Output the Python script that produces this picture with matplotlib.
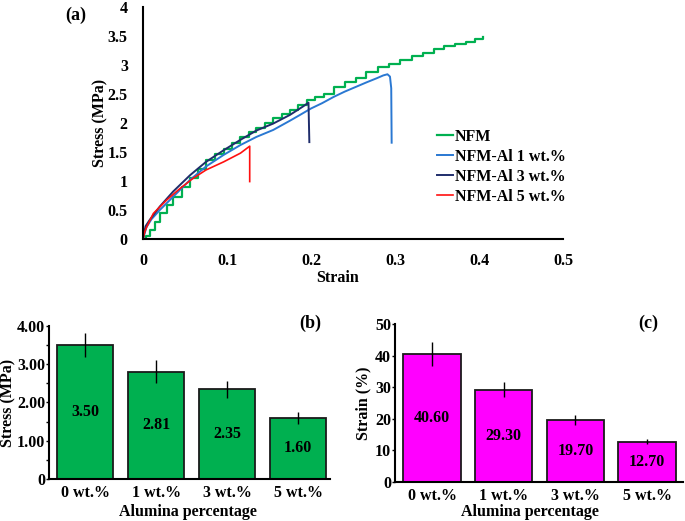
import numpy as np
import matplotlib
matplotlib.use("Agg")
import matplotlib.pyplot as plt

plt.rcParams['font.family'] = ['Liberation Serif', 'DejaVu Serif']
plt.rcParams['font.weight'] = 'bold'

# ---- (a) stress-strain curves ----
nfm_strain = [0, 0.004, 0.008, 0.014, 0.020, 0.028, 0.036, 0.046, 0.056, 0.066,
              0.075, 0.086, 0.096, 0.106, 0.116, 0.126, 0.135, 0.145, 0.155, 0.165,
              0.175, 0.185, 0.195, 0.205, 0.215, 0.227, 0.240, 0.253, 0.266, 0.280,
              0.293, 0.306, 0.320, 0.333, 0.346, 0.358, 0.372, 0.385, 0.395, 0.405]
nfm_stress = [0, 0.06, 0.16, 0.30, 0.44, 0.58, 0.73, 0.89, 1.05, 1.20,
              1.36, 1.46, 1.56, 1.66, 1.76, 1.84, 1.91, 2.00, 2.08, 2.15,
              2.22, 2.31, 2.40, 2.44, 2.50, 2.62, 2.70, 2.78, 2.88, 2.96,
              3.02, 3.08, 3.15, 3.21, 3.28, 3.32, 3.37, 3.40, 3.44, 3.49]

al1_strain = [0, 0.004, 0.010, 0.020, 0.036, 0.056, 0.075, 0.096, 0.116, 0.135,
              0.155, 0.175, 0.187, 0.200, 0.213, 0.227, 0.240, 0.253, 0.266, 0.278,
              0.286, 0.291, 0.294, 0.2955, 0.296]
al1_stress = [0, 0.20, 0.34, 0.50, 0.73, 1.02, 1.25, 1.45, 1.62, 1.76,
              1.88, 2.04, 2.14, 2.25, 2.34, 2.45, 2.54, 2.62, 2.70, 2.77,
              2.82, 2.84, 2.80, 2.60, 1.66]

al3_strain = [0, 0.003, 0.008, 0.020, 0.036, 0.056, 0.075, 0.096, 0.116, 0.135,
              0.155, 0.175, 0.190, 0.197, 0.198]
al3_stress = [0, 0.22, 0.33, 0.56, 0.82, 1.10, 1.33, 1.53, 1.71, 1.87,
              1.99, 2.14, 2.28, 2.35, 1.67]

al5_strain = [0, 0.002, 0.0044, 0.0123, 0.028, 0.044, 0.060, 0.075, 0.096, 0.116,
              0.127, 0.127]
al5_stress = [0, 0.12, 0.21, 0.44, 0.67, 0.87, 1.05, 1.19, 1.33, 1.48,
              1.60, 0.99]

# ---- (b), (c) bar data ----
categories = ['0 wt.%', '1 wt.%', '3 wt.%', '5 wt.%']
stress_vals = [3.50, 2.81, 2.35, 1.60]
stress_err = [0.31, 0.30, 0.22, 0.15]
stress_lbls = ['3.50', '2.81', '2.35', '1.60']
strain_vals = [40.60, 29.30, 19.70, 12.70]
strain_err = [3.7, 2.4, 1.6, 0.8]
strain_lbls = ['40.60', '29.30', '19.70', '12.70']

fs = 11.5
fig = plt.figure(figsize=(6.85, 5.21), dpi=100)

# (a)
ax = fig.add_axes([0.2088, 0.5413, 0.6131, 0.4453])
ax.plot(nfm_strain, nfm_stress, color='#00b050', lw=1.6, drawstyle='steps-post', label='NFM')
ax.plot(al1_strain, al1_stress, color='#2a78d2', lw=1.4, label='NFM-Al 1 wt.%')
ax.plot(al3_strain, al3_stress, color='#1f2d6b', lw=1.4, label='NFM-Al 3 wt.%')
ax.plot(al5_strain, al5_stress, color='#ff1010', lw=1.2, label='NFM-Al 5 wt.%')
ax.set_xlim(0, 0.5)
ax.set_ylim(0, 4)
ax.set_xticks([0, 0.1, 0.2, 0.3, 0.4, 0.5])
ax.set_xticklabels(['0', '0.1', '0.2', '0.3', '0.4', '0.5'])
ax.set_yticks([0, 0.5, 1, 1.5, 2, 2.5, 3, 3.5, 4])
ax.set_yticklabels(['0', '0.5', '1', '1.5', '2', '2.5', '3', '3.5', '4'])
ax.tick_params(axis='both', length=0, labelsize=fs)
ax.tick_params(axis='y', pad=11)
ax.tick_params(axis='x', pad=10)
for s in ['top', 'right']:
    ax.spines[s].set_visible(False)
for s in ['left', 'bottom']:
    ax.spines[s].set_linewidth(1.5)
ax.set_xlabel('Strain', fontsize=fs, fontweight='bold')
ax.set_ylabel('Stress (MPa)', fontsize=fs, fontweight='bold')
ax.xaxis.set_label_coords(0.464, -0.135)
ax.yaxis.set_label_coords(-0.083, 0.5)
ax.legend(loc='upper left', bbox_to_anchor=(0.70, 0.475), frameon=False,
          handlelength=1.0, handletextpad=0.1, labelspacing=0.25, borderpad=0, borderaxespad=0,
          prop={'weight': 'bold', 'size': fs})
ax.text(-0.16, 0.965, '(a)', transform=ax.transAxes, fontsize=13, fontweight='bold',
        ha='center', va='center')


def bar_panel(rect, vals, errs, lbls, color, ylim, yticks, yticklabels, ylabel, tag, tagpos,
              xlim, width, xlab_pos, ylab_x, minor=None):
    bx = fig.add_axes(rect)
    x = np.arange(len(categories))
    bx.bar(x, vals, width=width, color=color, edgecolor='#1a1a1a', linewidth=1.3, zorder=2)
    bx.errorbar(x, vals, yerr=errs, fmt='none', ecolor='black', elinewidth=1.0, capsize=0, zorder=3)
    for xi, v, t in zip(x, vals, lbls):
        bx.text(xi, v / 2, t, ha='center', va='center', fontsize=fs, fontweight='bold')
    bx.set_xlim(*xlim)
    bx.set_ylim(*ylim)
    bx.set_xticks(x)
    bx.set_xticklabels(categories)
    bx.set_yticks(yticks)
    bx.set_yticklabels(yticklabels)
    if minor is not None:
        bx.set_yticks(minor, minor=True)
        bx.tick_params(axis='y', which='minor', length=2, width=1)
    bx.tick_params(axis='x', length=0, pad=4, labelsize=fs)
    bx.tick_params(axis='y', which='major', length=2.5, width=1, pad=0.3, labelsize=fs)
    for s in ['top', 'right']:
        bx.spines[s].set_visible(False)
    for s in ['left', 'bottom']:
        bx.spines[s].set_linewidth(1.5)
    bx.set_xlabel('Alumina percentage', fontsize=fs, fontweight='bold')
    bx.set_ylabel(ylabel, fontsize=fs, fontweight='bold')
    bx.xaxis.set_label_coords(*xlab_pos)
    bx.yaxis.set_label_coords(ylab_x, 0.5)
    bx.text(tagpos[0], tagpos[1], tag, transform=bx.transAxes, fontsize=13, fontweight='bold',
            ha='center', va='center')
    return bx


bar_panel([0.0715, 0.0806, 0.4102, 0.2937], stress_vals, stress_err, stress_lbls, '#00b050',
          (0, 4), [0, 1, 2, 3, 4], ['0', '1.00', '2.00', '3.00', '4.00'], 'Stress (MPa)',
          '(b)', (0.93, 1.02), (-0.515, 3.45), 0.79, (0.495, -0.162), -0.115,
          minor=[0.5, 1.5, 2.5, 3.5])
bar_panel([0.5766, 0.0749, 0.4204, 0.3027], strain_vals, strain_err, strain_lbls, '#ff00ff',
          (0, 50), [0, 10, 20, 30, 40, 50], ['0', '10', '20', '30', '40', '50'], 'Strain (%)',
          '(c)', (0.88, 1.006), (-0.517, 3.5), 0.80, (0.469, -0.139), -0.083)

fig.savefig('out.png', dpi=100)
